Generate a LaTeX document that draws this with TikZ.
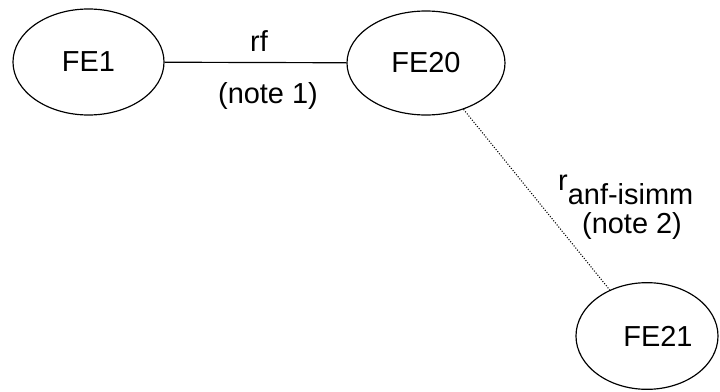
\documentclass[tikz,border=0pt]{standalone}
\usepackage{fontspec}
\setmainfont{Liberation Sans}
\usepackage{tikz}
\usetikzlibrary{shapes,positioning,calc}

\tikzset{
  fe/.style={ellipse, draw, line width=1pt, inner sep=0pt, font=\fontsize{24.7}{24.7}\selectfont},
  lbl/.style={inner sep=0pt, font=\fontsize{24.7}{24.7}\selectfont},
  dotline/.style={line width=0.9pt, dash pattern=on 0.9pt off 1.4pt}
}

\begin{document}
\begin{tikzpicture}[x=0.03cm, y=-0.03cm]
   \clip (0,0) rectangle (720,392);

   % FE1 Symbol
   \node (fe1) at (88.5,62) [fe, minimum width=4.53cm, minimum height=3.18cm] {FE1};

   % FE20 Symbol
   \node (fe20) at (426,63) [fe, minimum width=4.74cm, minimum height=3.12cm] {FE20};

   % FE21 Symbol
   \node (fe21) at (647,336) [fe, minimum width=4.26cm, minimum height=3.2cm] {};
   \node (fe21txt) at (658,336) [lbl] {FE21};

   % rf link
   \draw[line width=1pt] (fe1) -- (fe20);
   \node (rflbl) at (259,51) [lbl, anchor=base] {rf};
   \node (note1) at (268,103) [lbl, anchor=base] {(note 1)};

   % anf-isimm link
   \draw[dotline] (fe20) -- (fe21);
   \node (ranf) at (558,190) [lbl, anchor=base west] {r\raisebox{-0.42cm}{anf-isimm}};
   \node (note2) at (632,233) [lbl, anchor=base] {(note 2)};

\end{tikzpicture}
\end{document}
